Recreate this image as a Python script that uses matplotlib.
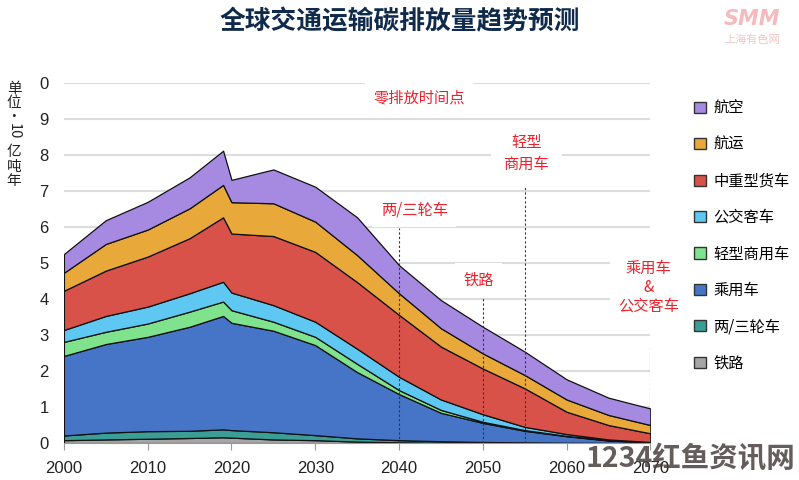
import matplotlib.pyplot as plt
from matplotlib.patches import Patch

plt.rcParams['font.family'] = ['Noto Sans CJK SC', 'DejaVu Sans']

years = [2000, 2005, 2010, 2015, 2019, 2020, 2025, 2030, 2035, 2040, 2045, 2050, 2055, 2060, 2065, 2070]

rail = [0.08, 0.10, 0.12, 0.14, 0.16, 0.15, 0.10, 0.08, 0.04, 0.02, 0.01, 0.01, 0, 0, 0, 0]
two_three = [0.13, 0.19, 0.21, 0.20, 0.22, 0.21, 0.20, 0.14, 0.09, 0.06, 0.04, 0.02, 0.02, 0.01, 0.005, 0]
passenger = [2.21, 2.46, 2.62, 2.89, 3.15, 2.98, 2.82, 2.50, 1.84, 1.28, 0.79, 0.53, 0.32, 0.18, 0.065, 0.02]
light_comm = [0.39, 0.34, 0.37, 0.42, 0.40, 0.35, 0.25, 0.23, 0.23, 0.11, 0.08, 0.03, 0.02, 0.01, 0.01, 0]
bus = [0.33, 0.44, 0.47, 0.51, 0.55, 0.49, 0.46, 0.42, 0.42, 0.37, 0.29, 0.21, 0.09, 0.05, 0.02, 0.01]
heavy = [1.09, 1.26, 1.39, 1.53, 1.79, 1.64, 1.92, 1.94, 1.85, 1.72, 1.47, 1.27, 1.07, 0.62, 0.40, 0.24]
shipping = [0.50, 0.74, 0.75, 0.83, 0.90, 0.87, 0.91, 0.84, 0.75, 0.60, 0.51, 0.42, 0.37, 0.34, 0.28, 0.23]
aviation = [0.52, 0.66, 0.77, 0.86, 0.95, 0.62, 0.94, 0.97, 1.05, 0.78, 0.78, 0.74, 0.65, 0.56, 0.48, 0.46]

labels = ['铁路', '两/三轮车', '乘用车', '轻型商用车', '公交客车', '中重型货车', '航运', '航空']
colors = ['#a6a6a6', '#3a9e96', '#4674c6', '#7fe28c', '#5ec8f2', '#d8524a', '#e9a93a', '#a68ae2']

# zero-emission milestones: year, top of dashed line
mark_years = [2040, 2050, 2055, 2070]
mark_tops = [5.97, 4.03, 7.1, 2.72]

fig = plt.figure(figsize=(7.99, 4.8), dpi=100)
ax = fig.add_axes([0.080, 0.077, 0.734, 0.75])

ax.stackplot(years, rail, two_three, passenger, light_comm, bus, heavy, shipping, aviation,
             colors=colors, edgecolor='#111111', linewidth=0.9, zorder=2)

num_font = ['Liberation Sans', 'DejaVu Sans']
ax.set_xlim(2000, 2070)
ax.set_ylim(0, 10)
ax.set_yticks(range(0, 11))
ax.set_yticklabels([str(i) for i in range(10)] + ['0'], fontsize=12, color='#222222', family=num_font)
ax.set_xticks(range(2000, 2071, 10))
ax.set_xticklabels([str(y) for y in range(2000, 2071, 10)], fontsize=12, color='#222222', family=num_font)
ax.tick_params(axis='y', length=0, pad=11)
ax.tick_params(axis='x', length=5, color='#999999', pad=8)
ax.grid(axis='y', color='#dddddd', linewidth=1.5, zorder=0)
ax.set_axisbelow(True)
for s in ['top', 'right', 'left']:
    ax.spines[s].set_visible(False)
ax.spines['bottom'].set_color('#999999')

for yr, top in zip(mark_years, mark_tops):
    ax.plot([yr, yr], [0, top], color='#333333', linestyle=(0, (2, 2)), linewidth=0.8, zorder=3)

red = '#e8232b'
box = dict(facecolor='white', edgecolor='none', pad=6)
ax.text(2042.4, 9.58, '零排放时间点', color=red, fontsize=11, ha='center', va='center', bbox=box, zorder=1)
ax.text(2041.8, 6.47, '两/三轮车', color=red, fontsize=11, ha='center', va='center', bbox=box, zorder=1)
ax.text(2055.2, 8.05, '轻型\n商用车', color=red, fontsize=11, ha='center', va='center',
        linespacing=1.4, bbox=dict(facecolor='white', edgecolor='none', pad=9), zorder=1)
ax.text(2049.5, 4.53, '铁路', color=red, fontsize=11, ha='center', va='center', bbox=box, zorder=1)
ax.text(2069.8, 4.33, '乘用车\n&\n公交客车', color=red, fontsize=11, ha='center', va='center',
        linespacing=1.15, bbox=box, zorder=1)

handles = [Patch(facecolor=c, edgecolor='#333333', linewidth=1) for c in colors[::-1]]
leg = fig.legend(handles, labels[::-1], loc='upper left', bbox_to_anchor=(0.861, 0.805),
                 frameon=False, fontsize=11, handlelength=0.75, handleheight=0.75,
                 handletextpad=0.5, labelspacing=1.27, borderaxespad=0)

fig.text(0.5, 0.955, '全球交通运输碳排放量趋势预测', ha='center', va='center',
         fontsize=18.5, fontweight='heavy', color='#102a4c')

# vertical unit label
fig.text(14 / 799, 1 - 82 / 480, '单\n位\n·', ha='center', va='top', fontsize=10.5,
         color='#222222', linespacing=1.0)
fig.text(14 / 799, 1 - 131 / 480, '10', ha='center', va='center', fontsize=10.5,
         color='#222222', rotation=-90)
fig.text(14 / 799, 1 - 145 / 480, '亿\n吨\n年', ha='center', va='top', fontsize=10.5,
         color='#222222', linespacing=1.05)

# watermarks
fig.text(752 / 799, 1 - 19 / 480, 'SMM', ha='center', va='center', fontsize=15,
         fontweight='bold', style='italic', color='#f6b9bd', family='DejaVu Sans')
fig.text(752 / 799, 1 - 40 / 480, '上海有色网', ha='center', va='center', fontsize=8,
         color='#f6c3c6')
fig.text(690 / 799, 1 - 459 / 480, '1234红鱼资讯网', ha='center', va='center', fontsize=20.5,
         fontweight='bold', color='#4a3f3f', alpha=0.85)

fig.savefig('out.png', dpi=100)
